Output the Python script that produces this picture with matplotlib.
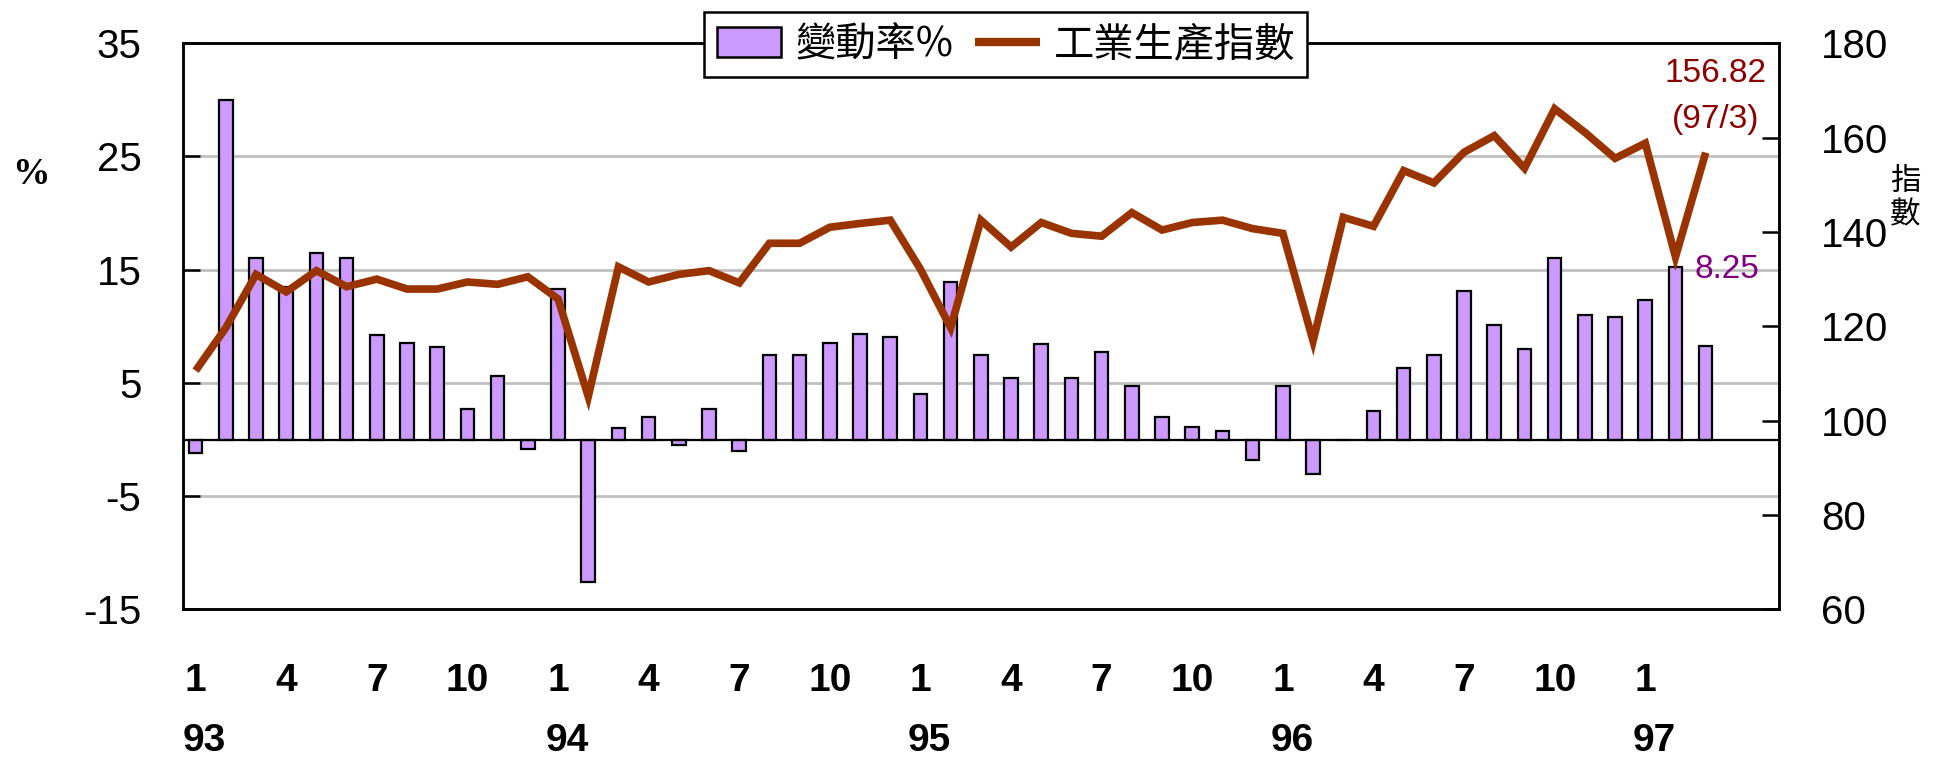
import matplotlib
matplotlib.use("Agg")
import matplotlib.pyplot as plt
from matplotlib.patches import Patch
from matplotlib.lines import Line2D
from matplotlib.transforms import blended_transform_factory
from matplotlib import font_manager
import numpy as np

plt.rcParams['font.family'] = ['Liberation Sans', 'Noto Sans CJK TC', 'DejaVu Sans']

# ---- data (ROC years 93/1 .. 97/3) ----
years = ['93', '94', '95', '96', '97']
months = [1, 2, 3, 4, 5, 6, 7, 8, 9, 10, 11, 12] * 4 + [1, 2, 3]
change_pct = [-1.2, 30.0, 16.0, 13.5, 16.5, 16.0, 9.2, 8.5, 8.2, 2.7, 5.6, -0.8,
              13.3, -12.6, 1.0, 2.0, -0.5, 2.7, -1.0, 7.5, 7.5, 8.5, 9.3, 9.1,
              4.0, 13.9, 7.5, 5.4, 8.4, 5.4, 7.7, 4.7, 2.0, 1.1, 0.8, -1.8,
              4.7, -3.0, 0.0, 2.5, 6.3, 7.5, 13.1, 10.1, 8.0, 16.0, 11.0, 10.8,
              12.3, 15.2, 8.25]
prod_index = [110.6, 119.7, 131.0, 127.3, 131.8, 128.4, 130.0, 127.9, 127.9, 129.4, 128.9, 130.5,
              125.8, 105.1, 132.6, 129.4, 131.0, 131.8, 129.2, 137.6, 137.6, 141.0, 141.8, 142.5,
              132.1, 119.7, 142.5, 136.8, 142.0, 139.7, 139.1, 144.1, 140.4, 142.0, 142.5, 140.7,
              139.7, 116.9, 143.1, 141.2, 153.0, 150.4, 156.9, 160.4, 153.5, 166.1, 161.1, 155.6,
              158.8, 134.7, 156.82]
month_labels_shown = [1, 4, 7, 10]
left_ticks = [-15, -5, 5, 15, 25, 35]
right_ticks = [60, 80, 100, 120, 140, 160, 180]
legend_labels = ['變動率%', '工業生產指數']
last_label = '(97/3)'

bar_color = '#CC99FF'
line_color = '#993300'

names = {f.name for f in font_manager.fontManager.ttflist}
if 'Liberation Sans Narrow' in names:
    num_font = ['Liberation Sans Narrow', 'Liberation Sans', 'DejaVu Sans']
    tick_size, month_size, ann_size = 32, 31, 27
else:
    num_font = ['Liberation Sans', 'DejaVu Sans']
    tick_size, month_size, ann_size = 29, 28, 24

fig = plt.figure(figsize=(19.38, 7.58), dpi=100)
ax = fig.add_axes([0.0944, 0.196, 0.8236, 0.747])
ax2 = ax.twinx()

x = np.arange(len(change_pct))

# grid
for v in left_ticks[1:-1]:
    ax.axhline(v, color='#C0C0C0', lw=2.0, zorder=0)

ax.bar(x, change_pct, width=0.45, color=bar_color, edgecolor='black', linewidth=1.6, zorder=2)
ax.axhline(0, color='black', lw=1.6, zorder=3)

ax2.plot(x, prod_index, color=line_color, lw=5.5, solid_joinstyle='miter', solid_capstyle='butt', zorder=4)

ax.set_xlim(-0.42, 52.43)
ax.set_ylim(-15, 35)
ax2.set_ylim(60, 180)
ax.set_yticks(left_ticks)
ax.set_yticklabels([str(v) for v in left_ticks], family=num_font)
ax2.set_yticks(right_ticks)
ax2.set_yticklabels([str(v) for v in right_ticks], family=num_font)
ax.tick_params(axis='y', direction='in', length=12, width=1.8, pad=30, labelsize=tick_size)
ax2.tick_params(axis='y', direction='in', length=12, width=1.8, pad=30, labelsize=tick_size)
ax.set_xticks([])

for a in (ax, ax2):
    for s in a.spines.values():
        s.set_linewidth(1.8)
        s.set_color('black')

# x labels: months and years
tr = blended_transform_factory(ax.transData, ax.transAxes)
for i, m in enumerate(months):
    if m in month_labels_shown:
        ax.text(i, -0.127, str(m), transform=tr, ha='center', va='center',
                fontsize=month_size, fontweight='bold', family=num_font)
yi = 0
for i, m in enumerate(months):
    if m == 1:
        ax.text(i + 0.3, -0.233, years[yi], transform=tr, ha='center', va='center',
                fontsize=month_size, fontweight='bold', family=num_font)
        yi += 1

# axis unit labels
fig.text(31 / 1938, 1 - 175 / 758, '%', fontsize=27, fontweight='bold',
         family=['Liberation Serif', 'DejaVu Serif'], ha='center', va='center')
fig.text(1905 / 1938, 1 - 198 / 758, '指\n數', fontsize=22, family=['Noto Sans CJK TC'],
         ha='center', va='center', linespacing=1.1)

# annotations
ax2.annotate(f'{prod_index[-1]:.2f}', xy=(x[-1], prod_index[-1]), xytext=(7, 57),
             textcoords='offset points', ha='center', va='center', fontsize=ann_size,
             color='#8B0000', family=num_font)
ax2.annotate(last_label, xy=(x[-1], prod_index[-1]), xytext=(7, 24),
             textcoords='offset points', ha='center', va='center', fontsize=ann_size,
             color='#8B0000', family=num_font)
ax.annotate(f'{change_pct[-1]:.2f}', xy=(x[-1], change_pct[-1]), xytext=(15, 55),
            textcoords='offset points', ha='center', va='center', fontsize=ann_size,
            color='#800080', family=num_font)

# legend
handles = [Patch(facecolor=bar_color, edgecolor='black', linewidth=1.8),
           Line2D([0], [0], color=line_color, lw=6.0, solid_capstyle='butt')]
leg = fig.legend(handles, legend_labels, loc='upper left', bbox_to_anchor=(0.3635, 0.984),
                 ncol=2, frameon=True, fancybox=False, framealpha=1,
                 edgecolor='black', borderaxespad=0, handlelength=1.6, handleheight=0.75,
                 handletextpad=0.35, columnspacing=0.55, borderpad=0.3,
                 prop={'family': ['Noto Sans CJK TC', 'DejaVu Sans'], 'size': 29})
leg.get_frame().set_linewidth(1.8)
leg.set_zorder(10)

fig.savefig('out.png', dpi=100)
